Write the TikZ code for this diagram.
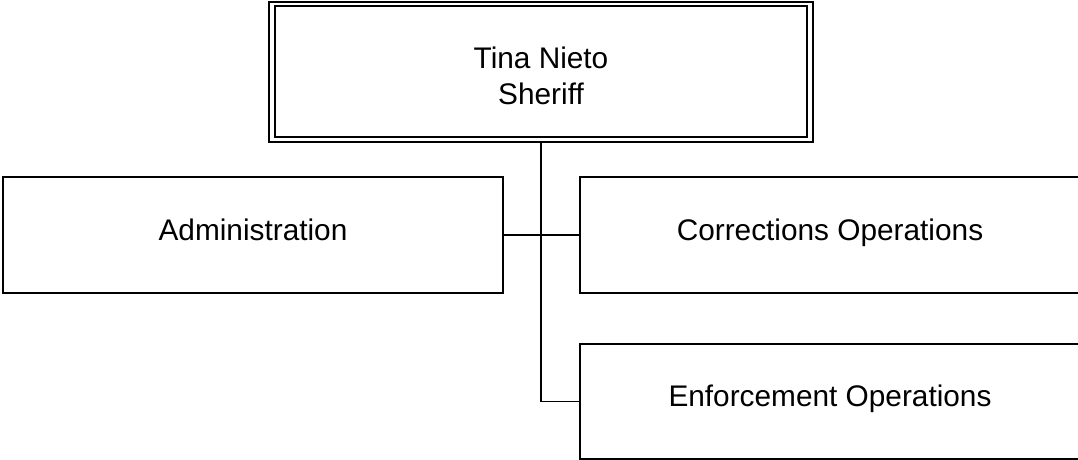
\documentclass[tikz,border=0pt]{standalone}
\usepackage{fontspec}
\setmainfont{Liberation Sans}
\begin{document}
\begin{tikzpicture}[x=1pt,y=-1pt,
  every node/.style={font=\fontsize{29.8}{35.8}\selectfont},
  unitbox/.style={draw, line width=1.5pt, rectangle, inner sep=0pt,
    minimum width=500pt, text height=22pt, text depth=12pt},
  conn/.style={line width=1.5pt}]
\useasboundingbox (0,0) rectangle (1078,460);
\node[draw, line width=1.5pt, minimum width=544pt, minimum height=140pt, inner sep=0pt] (topout) at (541,72) {};
\node[draw, line width=2.4pt, minimum width=532pt, minimum height=131pt, inner sep=0pt, align=center] (top) at (541,71.5) {\rule{0pt}{30.5pt}Tina Nieto\\Sheriff};
\node[unitbox, minimum height=116pt] (adm) at (253,235) {Administration};
\node[unitbox, minimum height=116pt] (cor) at (830,235) {Corrections Operations};
\node[unitbox, minimum height=115pt] (enf) at (830,401.5) {Enforcement Operations};
\draw[conn] (topout.south) |- (enf.west);
\draw[conn] (adm.east) -- (cor.west);
\end{tikzpicture}
\end{document}
